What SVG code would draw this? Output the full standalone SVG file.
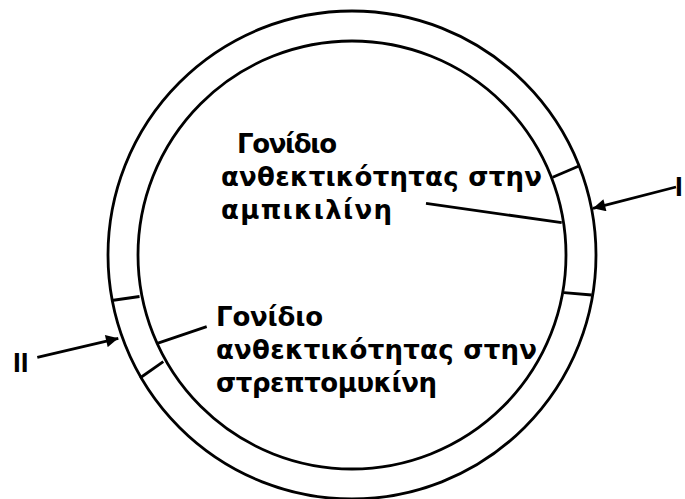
<svg xmlns="http://www.w3.org/2000/svg" width="685" height="499" viewBox="0 0 685 499">
<style>
.ring{fill:none;stroke:#000;stroke-width:2.8}
.ln{stroke:#000;stroke-width:2.8;fill:none}
.lbl{font-family:"DejaVu Sans",sans-serif;font-weight:bold;font-size:26px;fill:#000}
.num{font-family:"Liberation Sans",Arial,sans-serif;font-weight:bold;font-size:28px;fill:#000}
</style>
<defs>
<marker id="ah" viewBox="0 0 10 10" refX="10" refY="5" markerWidth="5" markerHeight="4.4" markerUnits="strokeWidth" orient="auto">
<path d="M0,0 L10,5 L0,10 z" fill="#000"/>
</marker>
</defs>
<rect width="685" height="499" fill="#fff"/>
<g id="plasmid">
<circle class="ring" cx="352" cy="255" r="244"/>
<circle class="ring" cx="352" cy="255" r="214"/>
<line class="ln" x1="552.7" y1="177.3" x2="579" y2="166"/>
<line class="ln" x1="564" y1="292.7" x2="591.7" y2="295"/>
<line class="ln" x1="111.7" y1="300.5" x2="139.5" y2="296.5"/>
<line class="ln" x1="140" y1="378" x2="163.3" y2="361.7"/>
</g>
<g id="connectors">
<line class="ln" x1="426" y1="203.3" x2="561.7" y2="222.7"/>
<line class="ln" x1="206.7" y1="326.7" x2="157.3" y2="343.3"/>
<line class="ln" x1="676" y1="187" x2="593" y2="208.3" marker-end="url(#ah)"/>
<line class="ln" x1="37.3" y1="357.3" x2="118.3" y2="338.3" marker-end="url(#ah)"/>
</g>
<g id="gene-amp">
<text class="lbl" x="237" y="153" textLength="100" lengthAdjust="spacing">Γονίδιο</text>
<text class="lbl" x="221" y="186" textLength="321" lengthAdjust="spacing">ανθεκτικότητας στην</text>
<text class="lbl" x="221" y="219" textLength="171" lengthAdjust="spacing">αμπικιλίνη</text>
</g>
<g id="gene-strep">
<text class="lbl" x="216" y="326" textLength="107" lengthAdjust="spacing">Γονίδιο</text>
<text class="lbl" x="216" y="359" textLength="321" lengthAdjust="spacing">ανθεκτικότητας στην</text>
<text class="lbl" x="216" y="392" textLength="221" lengthAdjust="spacing">στρεπτομυκίνη</text>
</g>
<g id="label-I">
<text class="num" x="675" y="196">I</text>
</g>
<g id="label-II">
<text class="num" x="13" y="372">II</text>
</g>
</svg>
